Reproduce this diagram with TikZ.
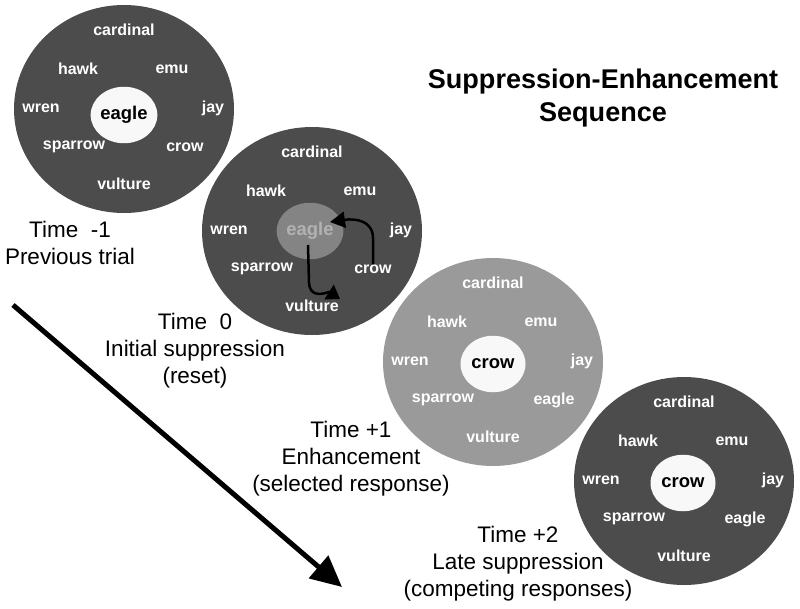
\documentclass[tikz,border=0pt]{standalone}
\usepackage{fontspec}
\setmainfont{Liberation Sans}
\usetikzlibrary{calc}
\usetikzlibrary{arrows.meta}
\usetikzlibrary{shapes.geometric}
\definecolor{ringdark}{RGB}{76,76,76}
\definecolor{ringlight}{RGB}{154,154,154}
\definecolor{hubwhite}{RGB}{248,248,248}
\definecolor{hubdim}{RGB}{132,132,132}
\definecolor{worddim}{RGB}{178,178,178}

\tikzset{
  bird/.style={text=white, inner sep=0pt, font=\fontsize{9.1}{10}\selectfont\bfseries},
  hub/.style={ellipse, fill=hubwhite, inner sep=0pt, minimum width=1.3cm, minimum height=1.13cm,
    font=\fontsize{10.5}{12}\selectfont\bfseries},
  timelabel/.style={align=center, font=\fontsize{12.8}{15.3}\selectfont},
  disc/.style={x radius=110, y radius=104},
}

\begin{document}
\begin{tikzpicture}[x=0.02cm, y=-0.02cm]
        \useasboundingbox (0,0) rectangle (800,608);
        \coordinate (c1) at (124,109);
        \coordinate (c2) at (312,231);
        \coordinate (c3) at (493,362);
        \coordinate (c4) at (684,481);

        % time arrow
        \coordinate (tstart) at (13,305);
        \coordinate (tend) at (342,587);
        \draw [line width=0.1cm, -{Triangle[length=0.62cm, width=0.58cm]}] (tstart) -- (tend);

        % Time -1
        \fill [ringdark] (c1) ellipse [disc];
        \foreach \w/\dx/\dy in {cardinal/0/-79, hawk/-46/-40, emu/48/-40, wren/-83/-1, jay/89/-1, sparrow/-50/38, crow/61/38, vulture/0/75}
            \node [bird] (c1-\w) at ($(c1) + (\dx,\dy)$) {\w};
        \node [hub] (c1-eagle) at ($(c1) + (0,6)$) {eagle};
        \node [timelabel] (lab1) at (70,243) {Time~~-1\\Previous trial};

        % Time 0
        \fill [ringdark] (c2) ellipse [disc];
        \foreach \w/\dx/\dy in {cardinal/0/-79, hawk/-46/-40, emu/48/-40, wren/-83/-1, jay/89/-1, sparrow/-50/38, crow/61/38, vulture/0/75}
            \node [bird] (c2-\w) at ($(c2) + (\dx,\dy)$) {\w};
        \node [hub, fill=hubdim, text=worddim] (c2-eagle) at ($(c2) + (-2,0)$) {eagle};
        \coordinate (dropa) at ($(c2) + (-4,14)$);
        \coordinate (dropb) at ($(c2) + (28,68)$);
        \coordinate (risea) at ($(c2) + (18,-9)$);
        \draw [line width=0.05cm, -{Triangle[length=0.26cm, width=0.34cm]}]
            (dropa) -- ($(dropa) + (1,38)$) .. controls ($(dropa) + (2,51)$) and ($(dropa) + (12,50)$) .. ($(dropa) + (21,47)$)
            -- (dropb);
        \draw [line width=0.05cm, -{Triangle[length=0.3cm, width=0.32cm]}]
            (c2-crow.north) -- ($(c2-crow.north) + (0,-26)$) .. controls ($(c2-crow.north) + (0,-44)$) and ($(c2-crow.north) + (-18,-46)$) .. (risea);
        \node [timelabel] (lab2) at (195,351) {Time~~0\\Initial suppression\\(reset)};

        % Time +1
        \fill [ringlight] (c3) ellipse [disc];
        \foreach \w/\dx/\dy in {cardinal/0/-79, hawk/-46/-40, emu/48/-40, wren/-83/-1, jay/89/-1, sparrow/-50/38, eagle/61/38, vulture/0/75}
            \node [bird] (c3-\w) at ($(c3) + (\dx,\dy)$) {\w};
        \node [hub] (c3-crow) at ($(c3) + (0,2)$) {crow};
        \node [timelabel] (lab3) at (351,459) {Time +1\\Enhancement\\(selected response)};

        % Time +2
        \fill [ringdark] (c4) ellipse [disc];
        \foreach \w/\dx/\dy in {cardinal/0/-79, hawk/-46/-40, emu/48/-40, wren/-83/-1, jay/89/-1, sparrow/-50/38, eagle/61/38, vulture/0/75}
            \node [bird] (c4-\w) at ($(c4) + (\dx,\dy)$) {\w};
        \node [hub] (c4-crow) at ($(c4) + (-1,2)$) {crow};
        \node [timelabel] (lab4) at (518,564) {Time +2\\Late suppression\\(competing responses)};

        \node [align=center, font=\fontsize{15.4}{18.7}\selectfont\bfseries] (title) at (603,98) {Suppression-Enhancement\\Sequence};
      \end{tikzpicture}
\end{document}
